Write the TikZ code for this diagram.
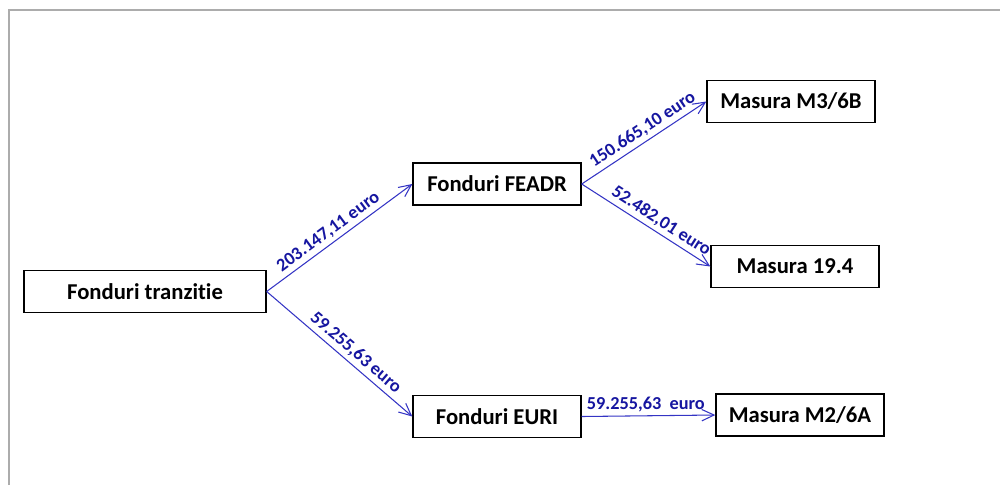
\documentclass[tikz,border=0pt]{standalone}
\usepackage{fontspec}
\setmainfont[Ligatures={NoCommon}]{Carlito}
\usetikzlibrary{arrows.meta}
\definecolor{linkblue}{RGB}{52,52,196}
\definecolor{sumblue}{RGB}{22,22,160}
\definecolor{framegray}{RGB}{172,172,172}

\begin{document}
\begin{tikzpicture}[x=0.02cm,y=-0.02cm,
  fund/.style={draw,line width=0.8pt,minimum height=0.84cm,inner sep=0pt,
    font=\fontsize{12.9}{15}\selectfont\bfseries},
  link/.style={draw=linkblue,line width=0.6pt,-{Straight Barb[length=7pt,width=6.5pt]}},
  sum/.style={font=\fontsize{10.4}{12}\selectfont\bfseries,text=sumblue,inner sep=2pt}]
\useasboundingbox (0,0) rectangle (1000,485);

% ramka
\draw[framegray,line width=1.1pt] (9,485)--(9,10)--(1000,10);

% okvirji
\node[fund,minimum width=4.84cm] (tranz) at (145,291.5) {Fonduri tranzitie};
\node[fund,minimum width=3.36cm] (feadr) at (497,184) {Fonduri FEADR};
\node[fund,minimum width=3.36cm] (euri) at (497,416.5) {Fonduri EURI};
\node[fund,minimum width=3.36cm] (m36b) at (791,101.5) {Masura M3/6B};
\node[fund,minimum width=3.36cm] (m194) at (795,266.5) {Masura 19.4};
\node[fund,minimum width=3.36cm] (m26a) at (800,415) {Masura M2/6A};

% povezave
\draw[link] (tranz.east)--(feadr.west) node[sum,pos=0.47,above,sloped]{203.147,11 euro};
\draw[link] (tranz.east)--(euri.west) node[sum,pos=0.56,above,sloped]{59.255,63 euro};
\draw[link] (feadr.east)--(m36b.west) node[sum,pos=0.54,above,sloped]{150.665,10 euro};
\draw[link] (feadr.east)--(m194.west) node[sum,pos=0.57,above,sloped]{52.482,01 euro};
\draw[link] (euri.east)--(m26a.west) node[sum,pos=0.48,above]{59.255,63\ \ euro};
\end{tikzpicture}
\end{document}
